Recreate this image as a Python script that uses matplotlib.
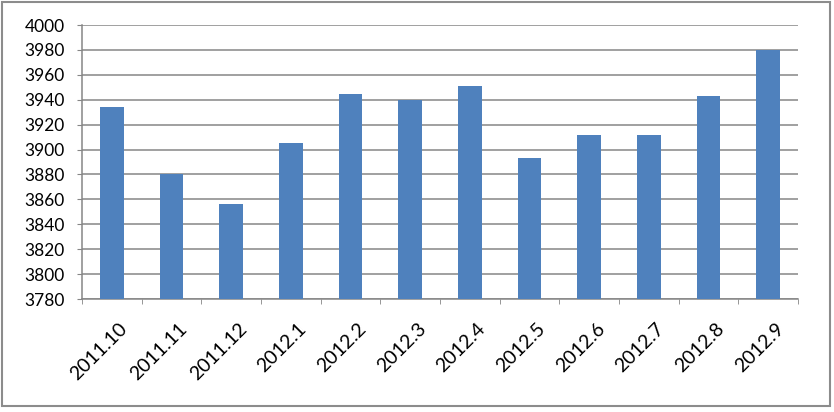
import numpy as np
import matplotlib
matplotlib.use('Agg')
import matplotlib.pyplot as plt
import matplotlib.transforms as mtransforms
from matplotlib.patches import Rectangle

plt.rcParams['font.family'] = ['Lato', 'DejaVu Sans']

months = ['2011.10', '2011.11', '2011.12', '2012.1', '2012.2', '2012.3',
          '2012.4', '2012.5', '2012.6', '2012.7', '2012.8', '2012.9']
values = [3934, 3880, 3856, 3905, 3945, 3940, 3951, 3893, 3912, 3912, 3943, 3980]
yticks = np.arange(3780, 4001, 20)

grey = '#868686'
fig = plt.figure(figsize=(8.34, 4.12), dpi=100)
ax = fig.add_axes([82/834, 1-299/412, (798-82)/834, (299-25)/412])

x = np.arange(len(months))
ax.bar(x, values, width=0.4, color='#4F81BD', zorder=3)

ax.set_xlim(-0.5, len(months)-0.5)
ax.set_ylim(3780, 4000)
ax.set_yticks(yticks)
ax.yaxis.grid(True, color=grey, lw=1.1, zorder=0)
for s in ['top', 'right']:
    ax.spines[s].set_visible(False)
for s in ['left', 'bottom']:
    ax.spines[s].set_color(grey)
    ax.spines[s].set_linewidth(1.1)

ax.tick_params(axis='y', direction='out', length=3.6, color=grey, pad=9, labelsize=12.5)
# category boundaries as minor ticks, labels on the (invisible) major ticks
ax.set_xticks(np.arange(-0.5, len(months), 1.0), minor=True)
ax.tick_params(axis='x', which='minor', direction='out', length=3.6, color=grey)
ax.set_xticks(x)
ax.set_xticklabels(months, rotation=45, ha='right', va='center', rotation_mode='anchor')
ax.tick_params(axis='x', which='major', length=0, pad=19.5, labelsize=14)
off = mtransforms.ScaledTranslation(0.13, 0, fig.dpi_scale_trans)
for lab in ax.get_xticklabels():
    lab.set_transform(lab.get_transform() + off)

# outer chart border
fig.patches.append(Rectangle((2/834, 1-406/412), 828/834, 404/412, transform=fig.transFigure,
                             fill=False, edgecolor='#8c8c8c', lw=1.5))

plt.savefig('out.png', dpi=100)
